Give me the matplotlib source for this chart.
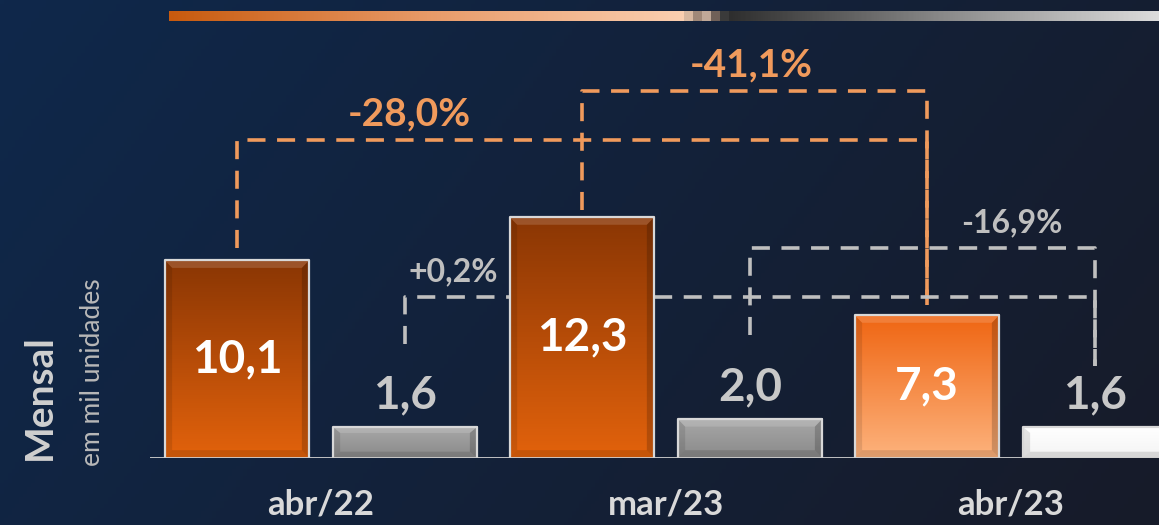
import numpy as np
import matplotlib
matplotlib.use("Agg")
import matplotlib.pyplot as plt
from matplotlib.colors import LinearSegmentedColormap, to_rgb

plt.rcParams['font.family'] = ['Lato', 'DejaVu Sans']

# data
categories = ['abr/22', 'mar/23', 'abr/23']
orange_vals = [10.1, 12.3, 7.3]
grey_vals = [1.6, 2.0, 1.6]
orange_labels = ['10,1', '12,3', '7,3']
grey_labels = ['1,6', '2,0', '1,6']
# (from group, to group, label)
orange_changes = [(0, 2, '-28,0%'), (1, 2, '-41,1%')]
grey_changes = [(0, 2, '+0,2%'), (1, 2, '-16,9%')]

W, H = 1159, 525
fig = plt.figure(figsize=(W / 100, H / 100), dpi=100)

# background gradient
bg = fig.add_axes([0, 0, 1, 1])
gx = np.linspace(0, 1, 300)
gy = np.linspace(0, 1, 150)
t = np.clip(0.75 * gx[None, :] + 0.25 * (1 - gy[:, None]), 0, 1)
c0 = np.array(to_rgb('#0f284b'))
c1 = np.array(to_rgb('#171b29'))
img = c0[None, None, :] * (1 - t[..., None]) + c1[None, None, :] * t[..., None]
bg.imshow(img, aspect='auto', extent=[0, 1, 0, 1], origin='lower')
bg.set_axis_off()

# top stripe
st = fig.add_axes([169 / W, 1 - 21 / H, 1 - 169 / W, 10 / H])
n = 990
stripe = np.zeros((1, n, 3))
o_end = 515
cmap_o = LinearSegmentedColormap.from_list('o', ['#c85a0e', '#e89a68', '#fbcfb0'])
cmap_g = LinearSegmentedColormap.from_list('g', ['#2e2e2e', '#8a8a8a', '#dcdcdc'])
steps = ['#d8b8a0', '#a08878', '#c0a898', '#706058', '#3a3a3a']
for i in range(n):
    if i < o_end:
        stripe[0, i] = cmap_o(i / o_end)[:3]
    elif i < 560:
        stripe[0, i] = to_rgb(steps[min((i - o_end) // 9, 4)])
    else:
        stripe[0, i] = cmap_g((i - 560) / (n - 560))[:3]
st.imshow(stripe, aspect='auto', extent=[0, 1, 0, 1])
st.set_axis_off()

# main axes
ax = fig.add_axes([150 / W, 67 / H, 1 - 150 / W, 1 - 67 / H])
ax.patch.set_alpha(0)
px_unit = 19.6
ymax = 458 / px_unit
group_px = 345.0
xl = (150 - 321) / group_px
xr = (1159 - 321) / group_px

off = 0.2435
bw = 0.42
x = np.arange(len(categories))


def grad_bar(xc, h, top, bottom, edge='#d8d8d8'):
    cm = LinearSegmentedColormap.from_list('b', [bottom, top])
    g = np.linspace(0, 1, 100)[:, None]
    ax.imshow(g, cmap=cm, aspect='auto', origin='lower',
              extent=[xc - bw / 2, xc + bw / 2, 0, h], zorder=2)
    # soft bevel
    bev = 0.022
    bh = min(0.4, h * 0.2)
    ax.fill([xc - bw / 2, xc - bw / 2 + bev, xc - bw / 2 + bev, xc - bw / 2],
            [0, bh, h - bh, h], color='black', alpha=0.10, lw=0, zorder=3)
    ax.fill([xc + bw / 2, xc + bw / 2 - bev, xc + bw / 2 - bev, xc + bw / 2],
            [0, bh, h - bh, h], color='black', alpha=0.18, lw=0, zorder=3)
    ax.fill([xc - bw / 2, xc + bw / 2, xc + bw / 2 - bev, xc - bw / 2 + bev],
            [h, h, h - bh, h - bh], color='white', alpha=0.15, lw=0, zorder=3)
    ax.fill([xc - bw / 2, xc + bw / 2, xc + bw / 2 - bev, xc - bw / 2 + bev],
            [0, 0, bh, bh], color='black', alpha=0.12, lw=0, zorder=3)
    ax.plot([xc - bw / 2, xc - bw / 2, xc + bw / 2, xc + bw / 2],
            [0, h, h, 0], color=edge, lw=1.6, zorder=4)


orange_styles = [('#8a3604', '#e2620c'), ('#8a3604', '#e2620c'), ('#ef6512', '#fdb27c')]
grey_styles = [('#a8a8a8', '#8a8a8a'), ('#a8a8a8', '#8a8a8a'), ('#ffffff', '#f4f4f4')]

for i in range(len(categories)):
    xo = x[i] - off
    xg = x[i] + off
    grad_bar(xo, orange_vals[i], *orange_styles[i])
    grad_bar(xg, grey_vals[i], *grey_styles[i])
    ax.text(xo, orange_vals[i] / 2, orange_labels[i], ha='center', va='center',
            color='white', fontsize=33, fontweight='bold', zorder=5)
    ax.text(xg, grey_vals[i] + 1.6, grey_labels[i], ha='center', va='center',
            color='#c8c8c8', fontsize=33, fontweight='bold', zorder=5)

ax.axhline(0, color='#d0d0d0', lw=2, zorder=6)

# change brackets
o_col = '#f09a5c'
g_col = '#bfbfbf'
dash = (5, 3.2)
o_levels = [16.2, 18.7]
o_gap = [0.6, 0.35]
o_end_gap = 0.5
for (a, b, lab), lev, gap in zip(orange_changes, o_levels, o_gap):
    xa = x[a] - off
    xb = x[b] - off
    ax.plot([xa, xa, xb, xb], [orange_vals[a] + gap, lev, lev, orange_vals[b] + o_end_gap],
            color=o_col, lw=2.6, dashes=dash, zorder=1)
    ax.text(xa + (0.5 if a == 0 else 0.49), lev + 1.35, lab, ha='center', va='center',
            color=o_col, fontsize=28, fontweight='bold')

g_levels = [8.2, 10.7]
g_start = [5.8, 6.3]
g_end = 4.7
for (a, b, lab), lev, y0 in zip(grey_changes, g_levels, g_start):
    xa = x[a] + off
    xb = x[b] + off
    ax.plot([xa, xa, xb, xb], [y0, lev, lev, g_end],
            color=g_col, lw=2.6, dashes=dash, zorder=1)
    tx = xa + 0.14 if a == 0 else xb - 0.24
    ax.text(tx, lev + 1.3, lab, ha='center', va='center',
            color=g_col, fontsize=23, fontweight='bold')

ax.set_xlim(xl, xr)
ax.set_ylim(0, ymax)
ax.set_axis_off()

for i, c in enumerate(categories):
    fig.text((321 + group_px * i) / W, 1 - 505 / H, c, ha='center', va='center',
             color='#d9d9d9', fontsize=25, fontweight='bold')

fig.text(39 / W, 1 - 397 / H, 'Mensal', rotation=90, ha='center', va='center',
         color='#d0d0d0', fontsize=28, fontweight='bold')
fig.text(92 / W, 1 - 372 / H, 'em mil unidades', rotation=90, ha='center', va='center',
         color='#b8b8b8', fontsize=19)

fig.savefig('out.png', dpi=100)
